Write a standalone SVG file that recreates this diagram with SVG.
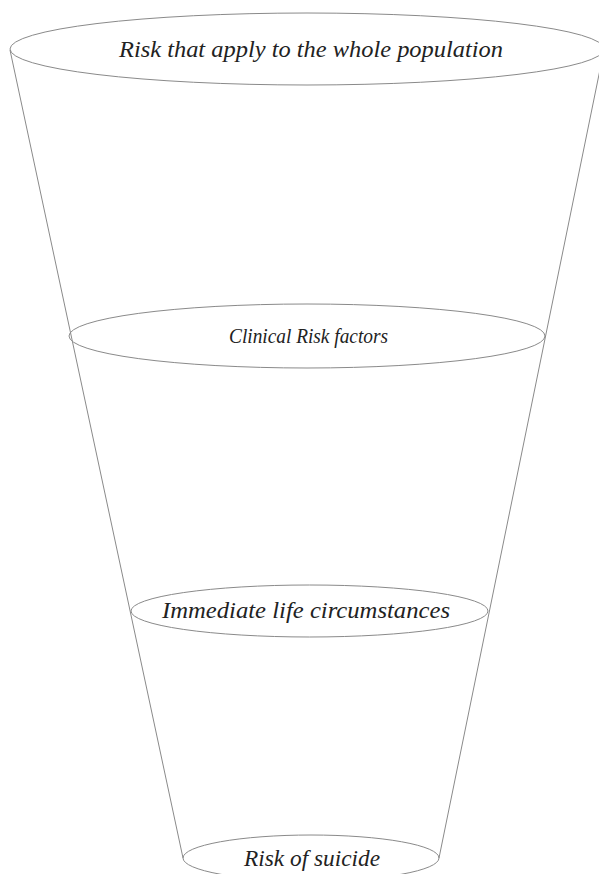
<svg xmlns="http://www.w3.org/2000/svg" width="599" height="874" viewBox="0 0 599 874">
  <style>
    .rim { fill: none; stroke: #8a8a8a; stroke-width: 1; }
    .side { fill: none; stroke: #8a8a8a; stroke-width: 1; }
    .lbl { font-family: "Liberation Serif", "DejaVu Serif", serif; font-style: italic; font-size: 24px; fill: #222; text-anchor: middle; }
  </style>
  <rect width="599" height="874" fill="#ffffff"/>
  <!-- funnel sides -->
  <g id="connectors">
    <line class="side" x1="10" y1="50" x2="183" y2="858"/>
    <line class="side" x1="604" y1="50" x2="439" y2="858"/>
  </g>
  <g id="population">
    <ellipse class="rim" cx="307" cy="49" rx="297" ry="36"/>
    <text class="lbl" x="311" y="57" textLength="384" lengthAdjust="spacingAndGlyphs">Risk that apply to the whole population</text>
  </g>
  <g id="clinical">
    <ellipse class="rim" cx="307" cy="336" rx="238" ry="32"/>
    <text class="lbl" x="308.5" y="343" style="font-size:22px" textLength="159" lengthAdjust="spacingAndGlyphs">Clinical Risk factors</text>
  </g>
  <g id="immediate">
    <ellipse class="rim" cx="309.5" cy="611" rx="178.5" ry="26"/>
    <text class="lbl" x="306" y="618" textLength="288" lengthAdjust="spacingAndGlyphs">Immediate life circumstances</text>
  </g>
  <g id="suicide">
    <ellipse class="rim" cx="311" cy="858" rx="128" ry="23"/>
    <text class="lbl" x="312" y="866" textLength="136" lengthAdjust="spacingAndGlyphs">Risk of suicide</text>
  </g>
</svg>
